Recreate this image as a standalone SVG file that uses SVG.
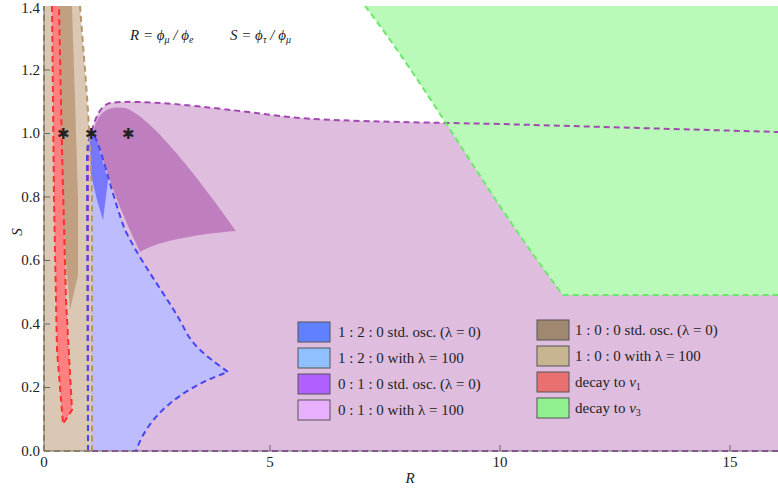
<svg xmlns="http://www.w3.org/2000/svg" width="778" height="491" viewBox="0 0 778 491" font-family="'Liberation Serif','DejaVu Serif',serif">
<style>
text{font-family:"Liberation Serif","DejaVu Serif",serif;font-size:15px;fill:#222}
.lg{stroke:#555;stroke-width:1}
.d{stroke-dasharray:6,4;stroke-width:2;fill:none}
</style>
<rect width="778" height="491" fill="#fff"/>
<g id="regions">
<path d="M88,451 L88,150 C92,125 98,106 110,103 C140,99 200,106 280,116 C320,121 400,122 500,124 L778,132 L778,451 Z" fill="#dfbddf"/>
<path d="M365,6 C430,90 490,200 563,295 L778,295 L778,6 Z" fill="#b9fab9"/>
<path d="M88,451 L87,160 C87,140 90,134 93,135 C100,140 110,190 125,230 C145,270 170,300 185,330 C195,350 215,362 228,372 C190,385 150,410 136,451 Z" fill="#bcbcff"/>
<path d="M93,135 C96,115 105,105 125,108 C150,115 200,180 236,231 C200,234 160,240 140,252 C130,230 115,200 100,150 Z" fill="#bf7fbf"/>
<path d="M88,142 C90,134 95,134 98,145 L108,180 L103,220 L97,200 L90,170 Z" fill="#7878ff"/>
<path d="M44,451 L44,6 L80,6 C84,60 90,120 92,200 L92,451 Z" fill="#dac8b4"/>
<path d="M57,6 L72,6 L75,100 L78,200 L78,275 L70,310 L65,250 L60,150 Z" fill="#c1a082"/>
<path d="M52,6 L59,6 L62,150 L66,300 L72,410 L63,424 L57,350 L54,200 Z" fill="#ff8080"/>
</g>
<g id="connectors">
<path class="d" stroke="#a347b3" d="M88,451 L88,150 C92,125 98,106 110,103 C140,99 200,106 280,116 C320,121 400,122 500,124 L778,132 M92,451 L778,451"/>
<path class="d" stroke="#6be86b" d="M365,6 C430,90 490,200 563,295 L778,295"/>
<path class="d" stroke="#4646f0" d="M88,451 L87,160 C87,140 90,134 93,135 C100,140 110,190 125,230 C145,270 170,300 185,330 C195,350 215,362 228,372 C190,385 150,410 136,451"/>
<path class="d" stroke="#b8966a" d="M44,451 L44,6 M80,6 C84,60 90,120 92,200 L92,451 M44,451 L92,451"/>
<path class="d" stroke="#ff3030" d="M52,6 L54,200 L57,350 L63,424 L72,410 L66,300 L62,150 L59,6"/>
</g>
<g id="axes" stroke="#666" fill="none">
<path d="M44,451 L778,451 M44,451 L44,6"/>
<path d="M270,451v-6M500,451v-6M730,451v-6M44,387.5h6M44,324h6M44,260.5h6M44,197h6M44,133.5h6M44,70h6"/>
</g>
<g id="ticks" font-size="13">
<text x="44" y="467" text-anchor="middle" font-size="13">0</text>
<text x="270" y="467" text-anchor="middle" font-size="13">5</text>
<text x="500" y="467" text-anchor="middle" font-size="13">10</text>
<text x="730" y="467" text-anchor="middle" font-size="13">15</text>
<g text-anchor="end">
<text x="40" y="456" font-size="13">0.0</text><text x="40" y="392" font-size="13">0.2</text><text x="40" y="329" font-size="13">0.4</text><text x="40" y="265" font-size="13">0.6</text><text x="40" y="202" font-size="13">0.8</text><text x="40" y="138" font-size="13">1.0</text><text x="40" y="75" font-size="13">1.2</text><text x="40" y="13" font-size="13">1.4</text>
</g>
<text x="410" y="483" text-anchor="middle" font-style="italic">R</text>
<text x="22" y="232" text-anchor="middle" font-style="italic" transform="rotate(-90 22 232)">S</text>
</g>
<g id="title">
<text x="130" y="40" font-style="italic">R = ϕ<tspan font-size="10" dy="3">μ</tspan><tspan dy="-3"> / ϕ</tspan><tspan font-size="10" dy="3">e</tspan></text>
<text x="230" y="40" font-style="italic">S = ϕ<tspan font-size="10" dy="3">τ</tspan><tspan dy="-3"> / ϕ</tspan><tspan font-size="10" dy="3">μ</tspan></text>
</g>
<g id="stars" text-anchor="middle">
<text x="63" y="139" font-size="13" fill="#000">✱</text><text x="91" y="139" font-size="13" fill="#000">✱</text><text x="128" y="139" font-size="13" fill="#000">✱</text>
</g>
<g id="legend">
<rect class="lg" x="298" y="322" width="32" height="20" fill="#6080ff"/><text x="338" y="337">1 : 2 : 0 std. osc. (λ = 0)</text>
<rect class="lg" x="298" y="348" width="32" height="20" fill="#90c0ff"/><text x="338" y="363">1 : 2 : 0 with λ = 100</text>
<rect class="lg" x="298" y="374" width="32" height="20" fill="#b060ff"/><text x="338" y="389">0 : 1 : 0 std. osc. (λ = 0)</text>
<rect class="lg" x="298" y="400" width="32" height="20" fill="#e8b0ff"/><text x="338" y="415">0 : 1 : 0 with λ = 100</text>
<rect class="lg" x="537" y="320" width="32" height="20" fill="#a08870"/><text x="575" y="335">1 : 0 : 0 std. osc. (λ = 0)</text>
<rect class="lg" x="537" y="346" width="32" height="20" fill="#c8b490"/><text x="575" y="361">1 : 0 : 0 with λ = 100</text>
<rect class="lg" x="537" y="372" width="32" height="20" fill="#e87070"/><text x="575" y="387">decay to <tspan font-style="italic">ν</tspan><tspan font-size="10" dy="3">1</tspan></text>
<rect class="lg" x="537" y="398" width="32" height="20" fill="#90f090"/><text x="575" y="413">decay to <tspan font-style="italic">ν</tspan><tspan font-size="10" dy="3">3</tspan></text>
</g>
</svg>
